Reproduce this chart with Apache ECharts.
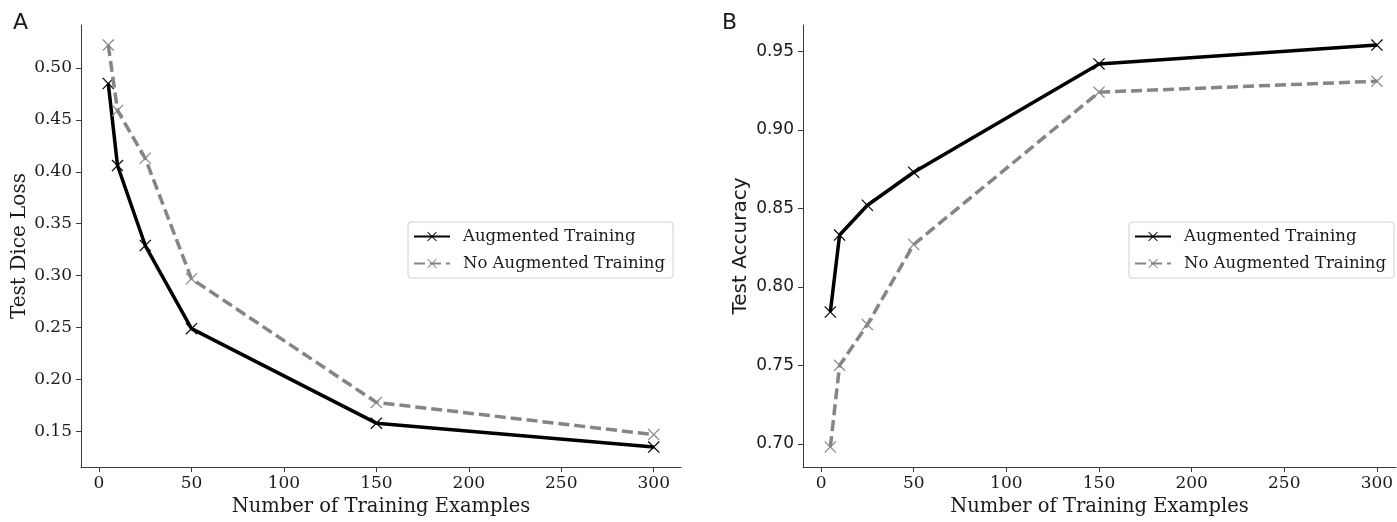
<!DOCTYPE html>
<html>
<head>
<meta charset="utf-8">
<script src="https://cdn.jsdelivr.net/npm/echarts@6/dist/echarts.min.js"></script>
<style>
html,body{margin:0;padding:0;background:#fff;}
#chart{width:1397px;height:522px;}
</style>
</head>
<body>
<div id="chart"></div>
<script>
// ---- data ----
const trainingSizes = [5, 10, 25, 50, 150, 300];
const diceLossAugmented = [0.485, 0.406, 0.329, 0.249, 0.158, 0.135];
const diceLossNoAugmented = [0.522, 0.459, 0.413, 0.297, 0.178, 0.147];
const accuracyAugmented = [0.784, 0.833, 0.852, 0.873, 0.942, 0.954];
const accuracyNoAugmented = [0.698, 0.750, 0.776, 0.827, 0.924, 0.931];
const xTicks = [0, 50, 100, 150, 200, 250, 300];
const lossTicks = [0.15, 0.20, 0.25, 0.30, 0.35, 0.40, 0.45, 0.50];
const accTicks = [0.70, 0.75, 0.80, 0.85, 0.90, 0.95];
const seriesNames = ['Augmented Training', 'No Augmented Training'];

// ---- styling ----
const SERIF = '"DejaVu Serif", serif';
const SANS = '"DejaVu Sans", sans-serif';
const AX = '#3a3a3a';
const TXT = '#1a1a1a';
const BLACK = '#000000';
const GRAY = '#858585';
const XMARK = 'path://M0,7L7,0L50,43L93,0L100,7L57,50L100,93L93,100L50,57L7,100L0,93L43,50Z';

function pairs(xs, ys) { return xs.map((x, i) => [x, ys[i]]); }

function xAxisDef(gi, max) {
  return {
    type: 'value', gridIndex: gi, min: -9.75, max: max,
    name: 'Number of Training Examples', nameLocation: 'middle', nameGap: 26,
    nameTextStyle: { fontFamily: SERIF, fontSize: 19.5, color: TXT },
    axisLine: { show: true, onZero: false, lineStyle: { color: AX, width: 1 } },
    axisTick: { show: true, length: 5, lineStyle: { color: AX }, customValues: xTicks },
    axisLabel: { fontFamily: SERIF, fontSize: 17, color: TXT, margin: 8, customValues: xTicks,
                 formatter: v => String(v) },
    splitLine: { show: false }
  };
}
function yAxisDef(gi, min, max, ticks, name, font, gap) {
  return {
    type: 'value', gridIndex: gi, min: min, max: max,
    name: name, nameLocation: 'middle', nameGap: gap,
    nameTextStyle: { fontFamily: font, fontSize: 20, color: TXT },
    axisLine: { show: true, onZero: false, lineStyle: { color: AX, width: 1 } },
    axisTick: { show: true, length: 5, lineStyle: { color: AX }, customValues: ticks },
    axisLabel: { fontFamily: font, fontSize: 17, color: TXT, margin: 9, customValues: ticks,
                 formatter: v => v.toFixed(2) },
    splitLine: { show: false }
  };
}
function lineSeries(name, gi, data, color, dashed) {
  return {
    name: name, type: 'line', xAxisIndex: gi, yAxisIndex: gi,
    data: data, symbol: XMARK, symbolSize: 12, showAllSymbol: true,
    lineStyle: { color: color, width: 3.5, type: dashed ? [11, 5] : 'solid' },
    itemStyle: { color: color },
    emphasis: { disabled: true },
    z: dashed ? 3 : 2
  };
}
function legendDef(left) {
  return {
    orient: 'vertical', left: left, top: 222,
    data: seriesNames,
    backgroundColor: '#ffffff', borderColor: '#d0d0d0', borderWidth: 1, borderRadius: 3,
    padding: [6, 8, 6, 5],
    itemWidth: 36, itemHeight: 12, itemGap: 10,
    textStyle: { fontFamily: SERIF, fontSize: 16.5, color: TXT, padding: [0, 0, 0, 8] },
    selectedMode: false
  };
}

const chart = echarts.init(document.getElementById('chart'), null, { renderer: 'canvas' });
chart.setOption({
  animation: false,
  backgroundColor: '#ffffff',
  grid: [
    { left: 81, right: 716, top: 25, bottom: 49 },
    { left: 803, right: 1, top: 25, bottom: 49 }
  ],
  xAxis: [xAxisDef(0, 314.75), xAxisDef(1, 310.3)],
  yAxis: [
    yAxisDef(0, 0.1157, 0.5413, lossTicks, 'Test Dice Loss', SERIF, 48),
    yAxisDef(1, 0.6852, 0.9668, accTicks, 'Test Accuracy', SANS, 52)
  ],
  legend: [legendDef(408), legendDef(1129)],
  series: [
    lineSeries(seriesNames[0], 0, pairs(trainingSizes, diceLossAugmented), BLACK, false),
    lineSeries(seriesNames[1], 0, pairs(trainingSizes, diceLossNoAugmented), GRAY, true),
    lineSeries(seriesNames[0], 1, pairs(trainingSizes, accuracyAugmented), BLACK, false),
    lineSeries(seriesNames[1], 1, pairs(trainingSizes, accuracyNoAugmented), GRAY, true)
  ],
  graphic: [
    { type: 'text', left: 13, top: 12, style: { text: 'A', font: '22px "DejaVu Sans", sans-serif', fill: TXT } },
    { type: 'text', left: 722, top: 12, style: { text: 'B', font: '22px "DejaVu Sans", sans-serif', fill: TXT } }
  ]
});
</script>
</body>
</html>
